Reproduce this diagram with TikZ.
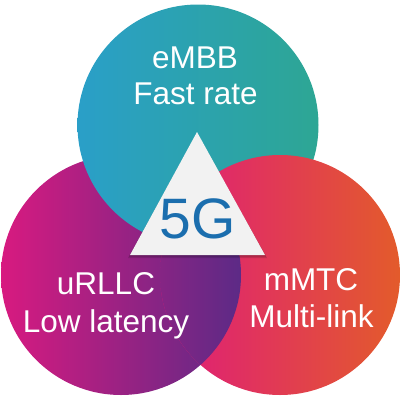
\documentclass[tikz,border=0pt]{standalone}
\usepackage{fontspec}
\setmainfont{Liberation Sans}
\definecolor{tealL}{HTML}{2A9FC8}
\definecolor{tealR}{HTML}{2DA694}
\definecolor{purL}{HTML}{D81A80}
\definecolor{purR}{HTML}{5C2A86}
\definecolor{pinkL}{HTML}{DF1B7B}
\definecolor{pinkR}{HTML}{E35B2B}
\definecolor{triGray}{HTML}{F2F2F2}
\definecolor{fiveG}{HTML}{1B6EAE}
\begin{document}
\begin{tikzpicture}[x=1pt,y=-1pt]
\tikzstyle{every node}+=[inner sep=0pt]
\tikzstyle{lbl}=[text=white,anchor=base,font=\fontsize{31.5}{36}\selectfont]
\tikzstyle{shadowtri}=[black,opacity=0.14]
\useasboundingbox (0,0) rectangle (401,402);
\coordinate (embb) at (198,125);
\coordinate (urllc) at (121,275);
\coordinate (mmtc) at (280,275);
\shade [left color=purL,right color=purR] (urllc) circle (120);
\shade [left color=tealL,right color=tealR] (embb) circle (120.5);
\shade [left color=pinkL,right color=pinkR] (mmtc) circle (120);
\begin{scope}
\clip (mmtc) circle (120);
\shade [left color=purL,right color=purR] (urllc) circle (120);
\end{scope}
\coordinate (t1) at (197,132);
\coordinate (t2) at (130,255);
\coordinate (t3) at (265,255);
\fill [shadowtri] ([shift={(0,2)}]t1) -- ([shift={(-2,3)}]t2) -- ([shift={(2,3)}]t3) -- cycle;
\fill [shadowtri] ([shift={(0,1)}]t1) -- ([shift={(-1,1.5)}]t2) -- ([shift={(1,1.5)}]t3) -- cycle;
\fill [triGray] (t1) -- (t2) -- (t3) -- cycle;
\node [anchor=base,text=fiveG,font=\fontsize{57}{60}\selectfont] (fiveg) at (198,238) {5G};
\node [lbl] (embb1) at (195,68) {eMBB};
\node [lbl] (embb2) at (195.5,104) {Fast rate};
\node [lbl] (urllc1) at (106,294) {uRLLC};
\node [lbl] (urllc2) at (106,332) {Low latency};
\node [lbl] (mmtc1) at (311,290) {mMTC};
\node [lbl] (mmtc2) at (311.5,327) {Multi-link};
\end{tikzpicture}
\end{document}
